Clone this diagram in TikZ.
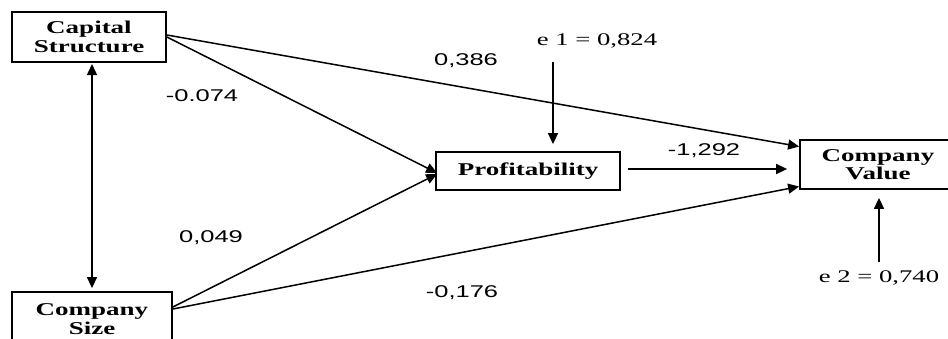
\documentclass[tikz,border=0pt]{standalone}
\usepackage{fontspec}
\newfontfamily\boxfont{Liberation Serif}[FakeStretch=1.5]
\newfontfamily\labfont{Liberation Sans}[FakeStretch=1.5]
\usetikzlibrary{arrows.meta,calc}
\begin{document}
\begin{tikzpicture}[x=1pt,y=-1pt,
  varbox/.style={draw,line width=1.8pt,inner sep=0pt,align=center,
    font=\boxfont\bfseries\fontsize{18}{18.5}\selectfont},
  coef/.style={inner sep=0pt,font=\labfont\fontsize{17}{18}\selectfont},
  errlab/.style={inner sep=0pt,font=\boxfont\fontsize{17.8}{19}\selectfont},
  conn/.style={line width=1.5pt,-{Triangle[length=11pt,width=10pt]}},
  dconn/.style={line width=1.5pt,{Triangle[length=11pt,width=10pt]}-{Triangle[length=11pt,width=10pt]}}]
\useasboundingbox (0,0) rectangle (948,338);
\clip (0,0) rectangle (948,338);
\node[varbox,minimum width=154pt,minimum height=50pt] (cs) at (89,37) {Capital\\Structure};
\node[varbox,minimum width=160pt,minimum height=54pt] (size) at (92,319) {Company\\Size};
\node[varbox,minimum width=184pt,minimum height=38pt] (prof) at (528,171) {Profitability};
\node[varbox,minimum width=156pt,minimum height=49pt] (cv) at (878,164.5) {Company\\Value};
% coefficient labels
\node[coef] (l1) at (202,96) {-0.074};
\node[coef] (l2) at (466,61) {0,386};
\node[coef] (l3) at (704,151) {-1,292};
\node[coef] (l4) at (211,238) {0,049};
\node[coef] (l5) at (462,293) {-0,176};
\node[errlab] (e1) at (597,41) {e 1 = 0,824};
\node[errlab] (e2) at (879,278) {e 2 = 0,740};
\coordinate (e1s) at (553,62);
\coordinate (e2s) at (879,262);
\coordinate (dtop) at (92,62);
% connectors
\draw[dconn,shorten <=2pt,shorten >=3pt] (dtop) -- (dtop |- size.north);
\draw[conn] ([yshift=2pt]cs.east) -- ([yshift=18pt]cv.west);
\draw[conn] (cs.east) -- ([xshift=2pt,yshift=-2pt]prof.west);
\draw[conn] ([yshift=12pt]size.east) -- ([xshift=2pt,yshift=-3pt]prof.west);
\draw[conn] ([yshift=10pt]size.east) -- ([yshift=-22pt]cv.west);
\draw[conn,shorten <=7pt,shorten >=12pt] ([yshift=2pt]prof.east) -- ([yshift=2pt]prof.east -| cv.west);
\draw[conn,shorten >=7pt] (e1s) -- (e1s |- prof.north);
\draw[conn,shorten >=8pt] (e2s) -- (e2s |- cv.south);
\end{tikzpicture}
\end{document}
